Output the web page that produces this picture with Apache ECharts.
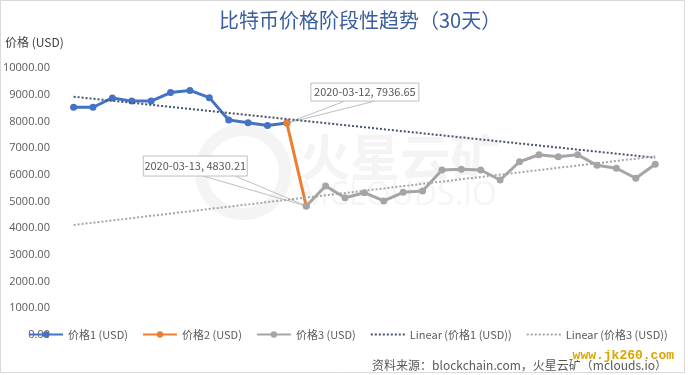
<!DOCTYPE html>
<html>
<head>
<meta charset="utf-8">
<script src="https://cdn.jsdelivr.net/npm/echarts@6/dist/echarts.min.js"></script>
<style>
html,body{margin:0;padding:0;background:#fff;}
#c{width:688px;height:375px;}
</style>
</head>
<body>
<div id="c"></div>
<script>
// ---- data ----
var dates = ['2020-03-01','2020-03-02','2020-03-03','2020-03-04','2020-03-05','2020-03-06','2020-03-07','2020-03-08','2020-03-09','2020-03-10','2020-03-11','2020-03-12','2020-03-13','2020-03-14','2020-03-15','2020-03-16','2020-03-17','2020-03-18','2020-03-19','2020-03-20','2020-03-21','2020-03-22','2020-03-23','2020-03-24','2020-03-25','2020-03-26','2020-03-27','2020-03-28','2020-03-29','2020-03-30','2020-03-31'];
var price1 = [8530, 8530, 8880, 8760, 8760, 9080, 9160, 8890, 8050, 7950, 7850, 7936.65];
var price2 = [7936.65, 4830.21];
var price3 = [4830.21, 5580, 5140, 5330, 5020, 5345, 5390, 6180, 6205, 6180, 5805, 6490, 6750, 6680, 6750, 6355, 6245, 5870, 6395];
var trend1Ends = [8925, 6640];   // Linear (价格1) at first / last category
var trend3Ends = [4120, 6690];   // Linear (价格3) at first / last category
var yTicks = [0, 10000, 1000];
var names = ['价格1 (USD)', '价格2 (USD)', '价格3 (USD)', 'Linear (价格1 (USD))', 'Linear (价格3 (USD))'];

// ---- build padded series ----
var n = dates.length;
var s1 = [], s2 = [], s3 = [];
for (var i = 0; i < n; i++) { s1.push(null); s2.push(null); s3.push(null); }
price1.forEach(function (v, k) { s1[k] = v; });
price2.forEach(function (v, k) { s2[price1.length - 1 + k] = v; });
price3.forEach(function (v, k) { s3[n - price3.length + k] = v; });

var font = '"Noto Sans CJK SC", "Open Sans", sans-serif';
var chart = echarts.init(document.getElementById('c'), null, {renderer: 'canvas'});

var option = {
  backgroundColor: '#fff',
  animation: false,
  textStyle: {fontFamily: font},
  title: {
    text: '比特币价格阶段性趋势（30天）',
    left: 214, top: 5,
    textStyle: {fontSize: 20, fontWeight: 'normal', color: '#3b5f9e', fontFamily: font}
  },
  legend: {
    left: 23, top: 324,
    itemWidth: 34, itemHeight: 8, itemGap: 14,
    textStyle: {fontSize: 11, color: '#595959', fontFamily: font},
    data: names
  },
  grid: {left: 61.3, right: 23.1, top: 68, bottom: 40},
  xAxis: {
    type: 'category', data: dates, boundaryGap: true,
    axisLine: {show: false}, axisTick: {show: false}, axisLabel: {show: false}, splitLine: {show: false}
  },
  yAxis: {
    type: 'value', min: yTicks[0], max: yTicks[1], interval: yTicks[2],
    axisLine: {show: false}, axisTick: {show: false}, splitLine: {show: false},
    axisLabel: {
      formatter: function (v) { return v.toFixed(2); },
      fontSize: 11, color: '#595959', margin: 14, fontFamily: '"Open Sans", sans-serif'
    }
  },
  series: [
    {name: names[0], type: 'line', data: s1, symbol: 'circle', symbolSize: 7,
     lineStyle: {width: 3, color: '#4472c4'}, itemStyle: {color: '#4472c4'}, z: 3},
    {name: names[1], type: 'line', data: s2, symbol: 'circle', symbolSize: 7,
     lineStyle: {width: 3, color: '#ed7d31'}, itemStyle: {color: '#ed7d31'}, z: 4},
    {name: names[2], type: 'line', data: s3, symbol: 'circle', symbolSize: 7,
     lineStyle: {width: 3, color: '#a5a5a5'}, itemStyle: {color: '#a5a5a5'}, z: 5},
    {name: names[3], type: 'line', data: [[0, trend1Ends[0]], [n - 1, trend1Ends[1]]], symbol: 'none',
     lineStyle: {width: 2, color: '#44546a', type: [2, 2]}, itemStyle: {color: '#44546a', opacity: 0}, z: 6},
    {name: names[4], type: 'line', data: [[0, trend3Ends[0]], [n - 1, trend3Ends[1]]], symbol: 'none',
     lineStyle: {width: 2, color: '#a5a5a5', type: [2, 2]}, itemStyle: {color: '#a5a5a5', opacity: 0}, z: 6}
  ]
};
chart.setOption(option);

// ---- callouts and decorations ----
var pA = chart.convertToPixel({seriesIndex: 0}, [price1.length - 1, price1[price1.length - 1]]);
var pB = chart.convertToPixel({seriesIndex: 2}, [n - price3.length, price3[0]]);

function callout(p, text, bx, by, bw, bh, w1, w2) {
  var left = p[0] + bx, top = p[1] + by;
  return [
    {type: 'polyline', z: 1, shape: {points: [[left + w1, top + bh], p, [left + w2, top + bh]]},
     style: {stroke: '#bfbfbf', lineWidth: 1, fill: null}},
    {type: 'rect', z: 20, shape: {x: left, y: top, width: bw, height: bh},
     style: {fill: '#fff', stroke: '#bfbfbf', lineWidth: 1}},
    {type: 'text', z: 21, x: left + bw / 2, y: top + bh / 2,
     style: {text: text, fill: '#595959', font: '11px ' + font, align: 'center', verticalAlign: 'middle'}}
  ];
}

var g = [];
// outer border
g.push({type: 'rect', z: 0, shape: {x: 0.5, y: 0.5, width: 684, height: 372},
        style: {fill: null, stroke: '#d9d9d9', lineWidth: 1}});
// watermark
g.push({type: 'circle', z: -5, shape: {cx: 243, cy: 172, r: 42},
        style: {fill: null, stroke: '#f4f4f4', lineWidth: 12}});
g.push({type: 'text', z: -5, x: 300, y: 132,
        style: {text: '火星云矿', fill: '#f4f4f4', font: 'bold 50px "Noto Sans CJK SC"'}});
g.push({type: 'text', z: -5, x: 300, y: 180,
        style: {text: 'MCLOUDS.IO', fill: '#f5f5f5', font: '32px "Open Sans"'}});
g = g.concat(callout(pA, '2020-03-12, 7936.65', 24, -40, 108, 18, 34, 64));
g = g.concat(callout(pB, '2020-03-13, 4830.21', -163, -50, 104, 20, 60, 92));
// source
g.push({type: 'text', z: 10, x: 667, y: 365,
        style: {text: '资料来源：blockchain.com，火星云矿（mclouds.io）', fill: '#595959',
                font: '12px ' + font, align: 'right', verticalAlign: 'middle'}});
g.push({type: 'text', z: 11, x: 674, y: 356,
        style: {text: 'www.jk260.com', fill: '#dba500', stroke: '#fff', lineWidth: 2,
                font: 'bold 13px "Liberation Mono", "DejaVu Sans Mono", monospace', align: 'right', verticalAlign: 'middle'}});
// axis name
g.push({type: 'text', z: 10, x: 5, y: 42,
        style: {text: '价格 (USD)', fill: '#404040', font: '12px ' + font, verticalAlign: 'middle'}});

chart.setOption({graphic: {elements: g}});
</script>
</body>
</html>
